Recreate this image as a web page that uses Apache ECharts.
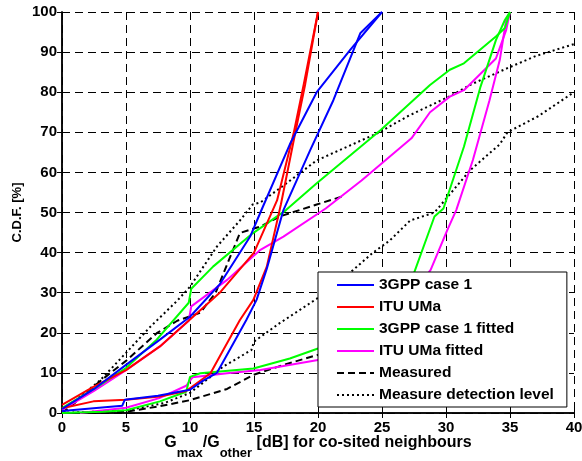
<!DOCTYPE html>
<html>
<head>
<meta charset="utf-8">
<script src="https://cdn.jsdelivr.net/npm/echarts@6/dist/echarts.min.js"></script>
<style>
  html, body { margin: 0; padding: 0; background: #fff; }
  #chart { width: 582px; height: 461px; }
</style>
</head>
<body>
<div id="chart"></div>
<script>
// x ticks / y ticks
const xTicks = [0, 5, 10, 15, 20, 25, 30, 35, 40]
const yTicks = [0, 10, 20, 30, 40, 50, 60, 70, 80, 90, 100]

// [x dB, CDF %]
const gppA = [[0,1],[2.5,6],[5,12],[7.65,18.3],[10,24],[12.3,32],[14.7,44],[15.5,50],[17.8,67],[19.9,80],[22.5,90.5],[25,100]]
const gppB = [[0,0.5],[4.7,1.8],[4.9,3.3],[7.5,4.3],[10,5.8],[11,8],[12.1,10],[13.1,15.7],[14.4,23.2],[15.2,28.2],[16,36],[17.3,50.6],[19.4,65.6],[21.2,78],[23.3,94.7],[25,100]]
const ituA = [[0,2],[2.45,6.5],[5,10.7],[7.65,16.6],[10,23.3],[12.3,29.9],[15,40],[16.8,53],[18.1,69.8],[18.9,82.2],[20,100]]
const ituB = [[0,1.2],[2.45,2.9],[5,3.3],[7.65,4.1],[9.7,5.5],[11.6,9.9],[12.6,15.7],[13.9,23.2],[14.95,28.2],[16,36.5],[17.1,52],[18.2,69.5],[19,82],[20,100]]
const gppFitA = [[0,1.2],[2.5,6],[5,11.2],[7.4,18.3],[9.9,27.5],[10.1,31],[11.8,36.5],[14.9,44.8],[17.5,50.6],[19.9,57.3],[24.9,70.6],[28.75,81.8],[30.3,85.6],[31.4,87.2],[33.9,93.9],[34.6,96],[35,100]]
const gppFitB = [[0,0],[3.2,0.3],[5,0.7],[7.65,2.9],[9.7,5.3],[10,9],[10.8,9.9],[14.95,11.1],[17.8,13.6],[20,16.1],[22,19],[24,24],[26,29],[27.4,34],[29.1,49],[29.8,51],[31.4,66.4],[32.7,81.4],[33.9,93],[34.6,98],[35,100]]
const ituFitA = [[0,0.8],[2.5,5.5],[5,10.7],[7.65,16.6],[9.9,23],[10.1,26.6],[12.9,33.2],[15.5,40.7],[17.3,44],[20.6,51],[23.4,58],[27.3,68.5],[28.75,75],[30.3,78.9],[31.4,80.5],[33.9,88.4],[34.7,95.5],[35,100]]
const ituFitB = [[1.4,0],[5,1.3],[7.6,3.7],[9.7,6.8],[10.2,8.9],[12.9,9.9],[15.5,10.7],[20,13.2],[23,17],[26,24],[28.8,35.7],[30.1,45.6],[30.8,50.6],[32.1,63.1],[33.4,78],[34.2,88],[34.7,98],[35,100]]
const measA = [[0,0],[1,2.5],[3,8],[5,13],[7.4,19.9],[9,23],[10.8,25],[12,30],[13.9,44.9],[15.5,46.5],[17,49],[19.9,52],[21.9,54]]
const measB = [[0,0],[5,0.3],[7.65,1.7],[10,3.2],[12.9,6],[14.95,9.5],[17.3,12],[20,14.5],[23,17]]
const detA = [[0,1],[1,3],[3,8.2],[5,15],[6.9,21.5],[9,28],[10,31.5],[12.1,41.5],[13.9,48],[14.9,52],[15.5,52.5],[17,56],[19.9,63],[22,66],[24.8,70],[27,74],[30.3,79],[32,82],[34.8,86],[37,89],[40,92]]
const detB = [[0,0],[5,0.6],[8,2.5],[10,5],[11.6,9],[12.6,11.6],[14.8,15.7],[15,17.8],[17,22.4],[19.9,28.5],[22.5,35],[24.3,40],[25.6,43],[27.2,48],[29.1,50],[31.9,60.6],[34.2,67],[34.8,70],[37.2,74],[40,80]]

const font = 'Liberation Sans, Arial, Helvetica, sans-serif'

function line(name, data, color, type) {
  return {
    name, type: 'line', data, symbol: 'none', animation: false,
    lineStyle: { color, width: 2, type: type || 'solid' },
    itemStyle: { color }
  }
}

const chart = echarts.init(document.getElementById('chart'))
chart.setOption({
  animation: false,
  grid: { left: 62, right: 8, top: 12, bottom: 48, containLabel: false, outerBoundsMode: 'none' },
  legend: {
    orient: 'vertical', left: 318, top: 272,
    itemWidth: 37, itemHeight: 14, itemGap: 6,
    padding: [5, 13, 4, 18],
    backgroundColor: '#fff', borderColor: '#000', borderWidth: 1,
    itemStyle: { opacity: 0 },
    textStyle: { fontFamily: font, fontWeight: 'bold', fontSize: 15.5, color: '#000' },
    data: ['3GPP case 1', 'ITU UMa', '3GPP case 1 fitted', 'ITU UMa fitted', 'Measured', 'Measure detection level']
  },
  xAxis: [{
    type: 'value', min: xTicks[0], max: xTicks[xTicks.length - 1], interval: 5,
    axisLine: { lineStyle: { color: '#000', width: 1.5 } },
    axisTick: { inside: true, length: 5, lineStyle: { color: '#000' } },
    axisLabel: { color: '#000', fontFamily: font, fontWeight: 'bold', fontSize: 15, margin: 7 },
    splitLine: { show: true, lineStyle: { color: '#000', type: [8, 5], width: 1 } },
    name: '{a|G}{s|max}{a|/G}{s|other}{a| [dB] for co-sited neighbours}',
    nameLocation: 'middle', nameGap: 12, nameMoveOverlap: false,
    nameTextStyle: {
      rich: {
        a: { fontFamily: font, fontWeight: 'bold', fontSize: 16, color: '#000' },
        s: { fontFamily: font, fontWeight: 'bold', fontSize: 13, color: '#000', padding: [22, 0, 0, 0] }
      }
    }
  }, {
    type: 'value', position: 'top', min: 0, max: 40, interval: 5,
    axisLine: { show: true, lineStyle: { color: '#000', width: 1.5 } },
    axisTick: { inside: true, length: 5, lineStyle: { color: '#000' } },
    axisLabel: { show: false }, splitLine: { show: false }
  }],
  yAxis: [{
    type: 'value', min: yTicks[0], max: yTicks[yTicks.length - 1], interval: 10,
    axisLine: { show: true, lineStyle: { color: '#000', width: 1.5 } },
    axisTick: { show: true, inside: true, length: 5, lineStyle: { color: '#000' } },
    axisLabel: { color: '#000', fontFamily: font, fontWeight: 'bold', fontSize: 15, margin: 5 },
    splitLine: { show: true, lineStyle: { color: '#000', type: [8, 5], width: 1 } },
    name: 'C.D.F. [%]', nameLocation: 'middle', nameGap: 38, nameRotate: 90, nameMoveOverlap: false,
    nameTextStyle: { fontFamily: font, fontWeight: 'bold', fontSize: 13, color: '#000' }
  }, {
    type: 'value', position: 'right', min: 0, max: 100, interval: 10,
    axisLine: { show: true, lineStyle: { color: '#000', width: 1.5 } },
    axisTick: { show: true, inside: true, length: 5, lineStyle: { color: '#000' } },
    axisLabel: { show: false }, splitLine: { show: false }
  }],
  series: [
    line('Measure detection level', detA, '#000', [2, 3]),
    line('Measure detection level', detB, '#000', [2, 3]),
    line('Measured', measA, '#000', [7, 4]),
    line('Measured', measB, '#000', [7, 4]),
    line('ITU UMa fitted', ituFitA, '#ff00ff'),
    line('ITU UMa fitted', ituFitB, '#ff00ff'),
    line('3GPP case 1 fitted', gppFitA, '#00ff00'),
    line('3GPP case 1 fitted', gppFitB, '#00ff00'),
    line('ITU UMa', ituA, '#ff0000'),
    line('ITU UMa', ituB, '#ff0000'),
    line('3GPP case 1', gppA, '#0000ff'),
    line('3GPP case 1', gppB, '#0000ff')
  ]
})
</script>
</body>
</html>
